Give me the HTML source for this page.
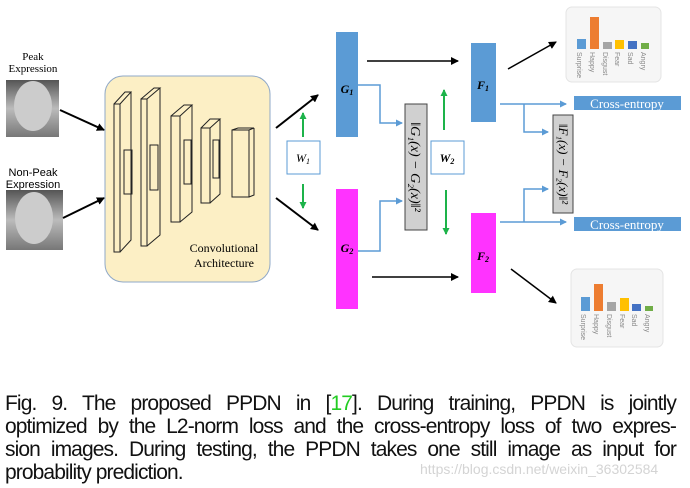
<!DOCTYPE html>
<html><head><meta charset="utf-8"><style>
body{margin:0;width:690px;height:488px;background:#fff;overflow:hidden;position:relative;font-family:"Liberation Sans",sans-serif}
.l{position:absolute;left:5px;width:671px;font-size:21px;color:#111;text-align:justify;text-align-last:justify;white-space:nowrap;line-height:23px;letter-spacing:-0.9px}
.wm{position:absolute;left:420px;top:461px;font-size:14px;color:#d4d4d4}
</style></head><body>
<svg width="690" height="390" style="position:absolute;left:0;top:0" font-family="Liberation Serif,serif">
<defs>
<marker id="a" markerWidth="8" markerHeight="8" refX="7" refY="4" orient="auto" markerUnits="userSpaceOnUse"><path d="M0,0 L8,4 L0,8z" fill="#000"/></marker>
<marker id="b" markerWidth="7" markerHeight="7" refX="6" refY="3.5" orient="auto" markerUnits="userSpaceOnUse"><path d="M0,0 L7,3.5 L0,7z" fill="#5b9bd5"/></marker>
<marker id="g" markerWidth="7" markerHeight="7" refX="6" refY="3.5" orient="auto" markerUnits="userSpaceOnUse"><path d="M0,0 L7,3.5 L0,7z" fill="#1db34a"/></marker>
<linearGradient id="face" x1="0" y1="0" x2="0" y2="1"><stop offset="0" stop-color="#555"/><stop offset=".5" stop-color="#bbb"/><stop offset="1" stop-color="#777"/></linearGradient>
</defs>
<text x="33" y="60" font-size="11" text-anchor="middle">Peak</text>
<text x="33" y="72" font-size="11" text-anchor="middle">Expression</text>
<rect x="6" y="80" width="53" height="57" fill="url(#face)"/>
<ellipse cx="33" cy="106" rx="19" ry="25" fill="#ccc"/>
<text x="33" y="176" font-size="11" text-anchor="middle" font-family="Liberation Sans,sans-serif">Non-Peak</text>
<text x="33" y="188" font-size="11" text-anchor="middle" font-family="Liberation Sans,sans-serif">Expression</text>
<rect x="6" y="190" width="57" height="60" fill="url(#face)"/>
<ellipse cx="34" cy="218" rx="19" ry="26" fill="#ccc"/>
<line x1="60" y1="110" x2="104" y2="130" stroke="#000" stroke-width="2" marker-end="url(#a)"/>
<line x1="63" y1="218" x2="104" y2="198" stroke="#000" stroke-width="2" marker-end="url(#a)"/>
<rect x="105" y="76" width="165" height="206" rx="18" fill="#fcefc5" stroke="#8fa8c8"/>
<g fill="none" stroke="#222" stroke-width="1">
<path d="M114,104 L114,252 L120,252 L120,104z M114,104 L125,92 L131,92 L120,104 M131,92 L131,240 L120,252"/>
<path d="M141,99 L141,246 L147,246 L147,99z M141,99 L154,88 L160,88 L147,99 M160,88 L160,235 L147,246"/>
<path d="M171,116 L171,222 L180,222 L180,116z M171,116 L184,105 L192,105 L180,116 M192,105 L192,212 L180,222"/>
<path d="M201,128 L201,203 L210,203 L210,128z M201,128 L210,119 L220,119 L210,128 M220,119 L220,194 L210,203"/>
<path d="M232,130 L232,197 L249,197 L249,130z M232,130 L238,128 L254,128 L249,130 M254,128 L254,195 L249,197"/>
<rect x="124" y="150" width="8" height="44"/><rect x="150" y="145" width="8" height="45"/><rect x="184" y="140" width="7" height="44"/><rect x="213" y="140" width="6" height="38"/>
</g>
<text x="224" y="252" font-size="12" text-anchor="middle">Convolutional</text>
<text x="224" y="267" font-size="12" text-anchor="middle">Architecture</text>
<line x1="276" y1="128" x2="318" y2="95" stroke="#000" stroke-width="2" marker-end="url(#a)"/>
<line x1="276" y1="198" x2="318" y2="230" stroke="#000" stroke-width="2" marker-end="url(#a)"/>
<rect x="287" y="141" width="33" height="33" fill="#fff" stroke="#5b9bd5"/>
<text x="303" y="162" font-size="12" font-style="italic" text-anchor="middle">W<tspan font-size="8" dy="2">1</tspan></text>
<line x1="303" y1="137" x2="303" y2="113" stroke="#1db34a" stroke-width="2" marker-end="url(#g)"/>
<line x1="303" y1="184" x2="303" y2="208" stroke="#1db34a" stroke-width="2" marker-end="url(#g)"/>
<rect x="336" y="32" width="22" height="105" fill="#5b9bd5"/>
<rect x="336" y="189" width="22" height="120" fill="#ff33ff"/>
<text x="347" y="93" font-size="12" font-weight="bold" font-style="italic" text-anchor="middle">G<tspan font-size="8" dy="2">1</tspan></text>
<text x="347" y="252" font-size="12" font-weight="bold" font-style="italic" text-anchor="middle">G<tspan font-size="8" dy="2">2</tspan></text>
<rect x="471" y="43" width="25" height="79" fill="#5b9bd5"/>
<rect x="471" y="213" width="25" height="80" fill="#ff33ff"/>
<text x="483" y="89" font-size="12" font-weight="bold" font-style="italic" text-anchor="middle">F<tspan font-size="8" dy="2">1</tspan></text>
<text x="483" y="260" font-size="12" font-weight="bold" font-style="italic" text-anchor="middle">F<tspan font-size="8" dy="2">2</tspan></text>
<line x1="367" y1="61" x2="458" y2="61" stroke="#000" stroke-width="1.5" marker-end="url(#a)"/>
<line x1="372" y1="277" x2="458" y2="277" stroke="#000" stroke-width="1.5" marker-end="url(#a)"/>
<g fill="none" stroke="#5b9bd5" stroke-width="1.5">
<path d="M358,85 L380,85 L380,123 L402,123" marker-end="url(#b)"/>
<path d="M358,251 L380,251 L380,201 L402,201" marker-end="url(#b)"/>
<path d="M500,104 L566,104" marker-end="url(#b)"/>
<path d="M524,104 L524,132 L548,132" marker-end="url(#b)"/>
<path d="M500,222 L566,222" marker-end="url(#b)"/>
<path d="M524,222 L524,189 L548,189" marker-end="url(#b)"/>
</g>
<rect x="405" y="104" width="22" height="126" fill="#d0d0d0" stroke="#444"/>
<text transform="translate(411,167) rotate(90)" font-size="14" font-style="italic" text-anchor="middle">‖G₁(x) − G₂(x)‖²</text>
<rect x="431" y="141" width="33" height="33" fill="#fff" stroke="#5b9bd5"/>
<text x="447" y="162" font-size="12" font-weight="bold" font-style="italic" text-anchor="middle">W<tspan font-size="8" dy="2">2</tspan></text>
<line x1="444" y1="130" x2="444" y2="90" stroke="#1db34a" stroke-width="2" marker-end="url(#g)"/>
<line x1="446" y1="190" x2="446" y2="234" stroke="#1db34a" stroke-width="2" marker-end="url(#g)"/>
<rect x="553" y="115" width="20" height="98" fill="#d0d0d0" stroke="#444"/>
<text transform="translate(559,164) rotate(90)" font-size="13" font-style="italic" text-anchor="middle">‖F₁(x) − F₂(x)‖²</text>
<rect x="574" y="96" width="107" height="14" fill="#5b9bd5"/>
<text x="627" y="108" font-size="13" fill="#fff" text-anchor="middle">Cross-entropy</text>
<rect x="574" y="217" width="107" height="14" fill="#5b9bd5"/>
<text x="627" y="229" font-size="13" fill="#fff" text-anchor="middle">Cross-entropy</text>
<line x1="508" y1="69" x2="556" y2="42" stroke="#000" stroke-width="1.5" marker-end="url(#a)"/>
<line x1="511" y1="269" x2="556" y2="303" stroke="#000" stroke-width="1.5" marker-end="url(#a)"/>
<g font-family="Liberation Sans,sans-serif" font-size="7" fill="#888">
<rect x="566" y="7" width="95" height="75" rx="6" fill="#f6f6f6" stroke="#e4e4e4"/>
<rect x="577" y="39" width="9" height="10" fill="#5b9bd5"/><rect x="590" y="17" width="9" height="32" fill="#ed7d31"/><rect x="603" y="42" width="9" height="7" fill="#a5a5a5"/><rect x="615" y="40" width="9" height="9" fill="#ffc000"/><rect x="628" y="41" width="9" height="8" fill="#4472c4"/><rect x="641" y="43" width="8" height="6" fill="#70ad47"/>
<text transform="translate(577,52) rotate(90)">Surprise</text><text transform="translate(590,52) rotate(90)">Happy</text><text transform="translate(603,52) rotate(90)">Disgust</text><text transform="translate(615,52) rotate(90)">Fear</text><text transform="translate(628,52) rotate(90)">Sad</text><text transform="translate(641,52) rotate(90)">Angry</text>
<rect x="571" y="269" width="92" height="78" rx="6" fill="#f6f6f6" stroke="#e4e4e4"/>
<rect x="581" y="297" width="9" height="14" fill="#5b9bd5"/><rect x="594" y="284" width="9" height="27" fill="#ed7d31"/><rect x="607" y="302" width="9" height="9" fill="#a5a5a5"/><rect x="620" y="298" width="9" height="13" fill="#ffc000"/><rect x="632" y="304" width="9" height="7" fill="#4472c4"/><rect x="645" y="306" width="8" height="5" fill="#70ad47"/>
<text transform="translate(581,314) rotate(90)">Surprise</text><text transform="translate(594,314) rotate(90)">Happy</text><text transform="translate(607,314) rotate(90)">Disgust</text><text transform="translate(620,314) rotate(90)">Fear</text><text transform="translate(632,314) rotate(90)">Sad</text><text transform="translate(645,314) rotate(90)">Angry</text>
</g>
</svg>
<div class="l" style="top:392px">Fig. 9. The proposed PPDN in [<span style="color:#2c2">17</span>]. During training, PPDN is jointly</div>
<div class="l" style="top:415px">optimized by the L2-norm loss and the cross-entropy loss of two expres-</div>
<div class="l" style="top:438px">sion images. During testing, the PPDN takes one still image as input for</div>
<div class="l" style="top:461px;text-align-last:left">probability prediction.</div>
<div class="wm">https://blog.csdn.net/weixin_36302584</div>
</body></html>
